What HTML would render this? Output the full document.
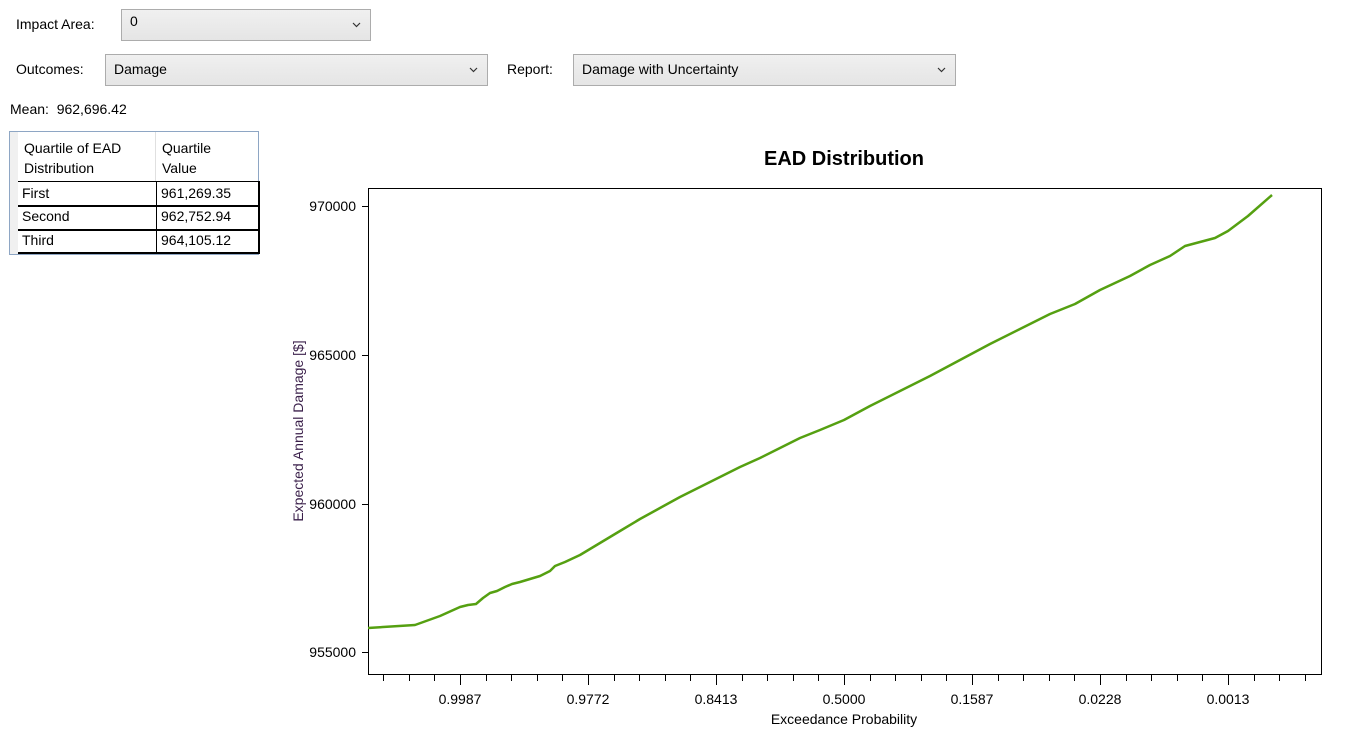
<!DOCTYPE html>
<html><head><style>
body{margin:0;width:1349px;height:746px;background:#fff;font-family:"Segoe UI","Liberation Sans",sans-serif;font-size:14px;color:#000;position:relative;overflow:hidden}
.a{position:absolute}
.dd{position:absolute;background:linear-gradient(#f0f0f0,#e5e5e5);border:1px solid #acacac;box-sizing:border-box;padding:3px 8px;font-size:14px}
.dd svg{position:absolute;right:9px;top:12px}
</style></head><body>
<div class="a" style="left:16px;top:16px">Impact Area:</div>
<div class="dd" style="left:121px;top:9px;width:250px;height:32px">0<svg width="9" height="6"><polyline points="1,1 4.5,4.5 8,1" fill="none" stroke="#333" stroke-width="1.2"/></svg></div>
<div class="a" style="left:16px;top:61px">Outcomes:</div>
<div class="dd" style="left:105px;top:54px;width:383px;height:32px;padding-top:6px">Damage<svg width="9" height="6"><polyline points="1,1 4.5,4.5 8,1" fill="none" stroke="#333" stroke-width="1.2"/></svg></div>
<div class="a" style="left:507px;top:61px">Report:</div>
<div class="dd" style="left:573px;top:54px;width:383px;height:32px;padding-top:6px">Damage with Uncertainty<svg width="9" height="6"><polyline points="1,1 4.5,4.5 8,1" fill="none" stroke="#333" stroke-width="1.2"/></svg></div>
<div class="a" style="left:10px;top:101px">Mean:&nbsp; 962,696.42</div>
<div class="a" style="left:9px;top:131px;width:250px;height:124px;border:1px solid #8ea6c4;box-sizing:border-box">
 <div class="a" style="left:0;top:0;width:8px;height:122px;background:#f0f0f0"></div>
 <div class="a" style="left:14px;top:6px;line-height:20px">Quartile of EAD<br>Distribution</div>
 <div class="a" style="left:152px;top:6px;line-height:20px">Quartile<br>Value</div>
 <div class="a" style="left:145px;top:0;width:1px;height:50px;background:#e0e0e0"></div>
 <div class="a" style="left:8px;top:49px;width:240px;height:72px;border-top:1px solid #000;border-right:2px solid #000">
  <div class="a" style="left:138px;top:0;width:1px;height:72px;background:#000"></div>
  <div class="a" style="left:0;top:23px;width:240px;height:2px;background:#000"></div>
  <div class="a" style="left:0;top:47px;width:240px;height:2px;background:#000"></div>
  <div class="a" style="left:0;top:70px;width:240px;height:2px;background:#000"></div>
  <div class="a" style="left:4px;top:3px">First</div><div class="a" style="left:143px;top:3px">961,269.35</div>
  <div class="a" style="left:4px;top:26px">Second</div><div class="a" style="left:143px;top:26px">962,752.94</div>
  <div class="a" style="left:4px;top:50px">Third</div><div class="a" style="left:143px;top:50px">964,105.12</div>
 </div>
</div>
<svg class="a" style="left:0;top:0" width="1349" height="746" font-family="Segoe UI, Liberation Sans, sans-serif">
<text x="844" y="165" text-anchor="middle" font-size="20" font-weight="bold">EAD Distribution</text>
<rect x="368.5" y="188.5" width="953" height="486" fill="none" stroke="#000"/>
<g stroke="#000">
<line x1="362" x2="368" y1="206.5" y2="206.5"/><line x1="362" x2="368" y1="355.5" y2="355.5"/>
<line x1="362" x2="368" y1="504.5" y2="504.5"/><line x1="362" x2="368" y1="652.5" y2="652.5"/>
</g>
<g font-size="14" text-anchor="end">
<text x="356" y="211">970000</text><text x="356" y="360">965000</text><text x="356" y="509">960000</text><text x="356" y="657">955000</text>
</g>
<text transform="translate(303,431) rotate(-90)" text-anchor="middle" font-size="14" fill="#3a1f4a">Expected Annual Damage [$]</text>
<g stroke="#000" id="t"></g>
<g font-size="14" text-anchor="middle">
<text x="460" y="704">0.9987</text><text x="588" y="704">0.9772</text><text x="716" y="704">0.8413</text><text x="844" y="704">0.5000</text><text x="972" y="704">0.1587</text><text x="1100" y="704">0.0228</text><text x="1228" y="704">0.0013</text>
</g>
<text x="844" y="724" text-anchor="middle" font-size="14">Exceedance Probability</text>
<polyline fill="none" stroke="#55a011" stroke-width="2.5" stroke-linejoin="round" points="368,628 415,625 440,616 460,607 468,605 476,604 483,598 490,593 497,591 505,587 512,584 520,582 530,579 540,576 550,571 555,566 565,562 580,555 600,543 620,531 640,519 660,508 680,497 700,487 720,477 740,467 760,458 780,448 800,438 820,430 844,420 870,406 900,391 930,376 960,360 990,344 1020,329 1050,314 1075,304 1100,290 1130,276 1150,265 1170,256 1185,246 1200,242 1215,238 1228,231 1248,216 1272,195"/>
</svg>
<script>
var g=document.getElementById('t'),s='';
for(var i=0;i<38;i++){var x=383.2+i*25.6;if(x>1321)break;var maj=Math.abs((x-460)/128-Math.round((x-460)/128))<0.01;
s+='<line x1="'+(Math.round(x)+0.5)+'" x2="'+(Math.round(x)+0.5)+'" y1="675" y2="'+(maj?685:681)+'"/>';}
g.innerHTML=s;
</script>
</body></html>
